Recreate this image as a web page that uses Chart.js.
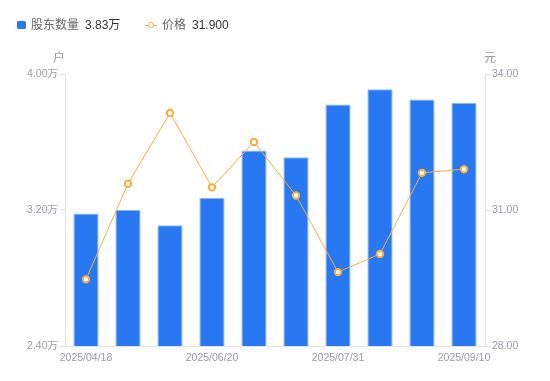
<!DOCTYPE html>
<html>
<head>
<meta charset="utf-8">
<script src="https://cdn.jsdelivr.net/npm/chart.js@4/dist/chart.umd.min.js"></script>
<style>
  html, body { margin: 0; padding: 0; background: #fff; }
  #wrap { position: relative; width: 550px; height: 381px; font-family: "Liberation Sans", "Noto Sans CJK SC", sans-serif; }
  canvas { position: absolute; left: 0; top: 0; }
  .lg { position: absolute; top: 17px; font-size: 12px; line-height: 16px; color: #666; white-space: nowrap; }
  .lg b { font-weight: normal; color: #333; margin-left: 6px; }
  .sq { position: absolute; left: 17px; top: 21px; width: 9px; height: 8px; background: #2878f2; border-radius: 1.5px; }
  .mk { position: absolute; left: 145px; top: 20px; width: 12px; height: 10px; }
  .mk:before { content: ""; position: absolute; left: 0; top: 4.5px; width: 12px; height: 1.2px; background: #f8ad3c; }
  .mk:after { content: ""; position: absolute; left: 3px; top: 2px; width: 3.5px; height: 3.5px; border: 1.6px solid #f8ad3c; border-radius: 50%; background: #fff; }
  .ax { position: absolute; top: 48px; font-size: 12px; color: #9a9aa8; }
</style>
</head>
<body>
<div id="wrap">
  <canvas id="c" width="550" height="381"></canvas>
  <div class="sq"></div>
  <div class="lg" style="left:31px">股东数量<b>3.83万</b></div>
  <div class="mk"></div>
  <div class="lg" style="left:162px">价格<b>31.900</b></div>
  <div class="ax" style="left:53px">户</div>
  <div class="ax" style="left:484px">元</div>
</div>
<script>
const categories = ['2025/04/18','2025/04/30','2025/05/30','2025/06/20','2025/06/30','2025/07/10','2025/07/31','2025/08/20','2025/08/29','2025/09/10'];
const holders = [3.18, 3.20, 3.11, 3.27, 3.55, 3.51, 3.82, 3.91, 3.85, 3.83];
const prices = [29.47, 31.58, 33.14, 31.50, 32.50, 31.32, 29.63, 30.03, 31.82, 31.90];
const leftTicks = [2.4, 3.2, 4.0];
const rightTicks = [28, 31, 34];

const tickColor = '#9a9aa8';
const axisColor = '#e3e3e8';
const tickFont = { family: '"Liberation Sans", "Noto Sans CJK SC", sans-serif', size: 10.5 };

new Chart(document.getElementById('c'), {
  data: {
    labels: categories,
    datasets: [
      {
        type: 'line', label: '价格', data: prices, yAxisID: 'y1',
        borderColor: '#f8ad3c', borderWidth: 1, backgroundColor: '#fff',
        pointRadius: 3.2, pointBorderWidth: 2, pointBorderColor: '#f8ad3c', pointBackgroundColor: '#fff',
        tension: 0, order: 0
      },
      {
        type: 'bar', label: '股东数量', data: holders, yAxisID: 'y',
        backgroundColor: '#2878f2', borderColor: '#8ab6f8',
        borderWidth: { top: 1, left: 1, right: 1, bottom: 0 },
        categoryPercentage: 0.6, barPercentage: 1, order: 1
      }
    ]
  },
  options: {
    responsive: false, animation: false,
    layout: { padding: { top: 74, left: 0, right: 0, bottom: 0 } },
    plugins: { legend: { display: false }, tooltip: { enabled: false } },
    scales: {
      x: {
        offset: true,
        grid: { display: false, drawTicks: false },
        border: { display: true, color: axisColor },
        ticks: {
          color: tickColor, font: tickFont, maxRotation: 0, autoSkip: false, padding: 6,
          callback: (v, i) => (i % 3 === 0 ? categories[i] : '')
        },
        afterFit: s => { s.height = 35; }
      },
      y: {
        position: 'left', min: leftTicks[0], max: leftTicks[leftTicks.length - 1],
        afterBuildTicks: s => { s.ticks = leftTicks.map(v => ({ value: v })); },
        grid: { drawOnChartArea: false, drawTicks: true, tickLength: 5, color: axisColor },
        border: { display: true, color: axisColor },
        ticks: { color: tickColor, font: tickFont, padding: 2, callback: v => v.toFixed(2) + '万' },
        afterFit: s => { s.width = 65; }
      },
      y1: {
        position: 'right', min: rightTicks[0], max: rightTicks[rightTicks.length - 1],
        afterBuildTicks: s => { s.ticks = rightTicks.map(v => ({ value: v })); },
        grid: { drawOnChartArea: false, drawTicks: true, tickLength: 5, color: axisColor },
        border: { display: true, color: axisColor },
        ticks: { color: tickColor, font: tickFont, padding: 2, callback: v => v.toFixed(2) },
        afterFit: s => { s.width = 65; }
      }
    }
  }
});
</script>
</body>
</html>
